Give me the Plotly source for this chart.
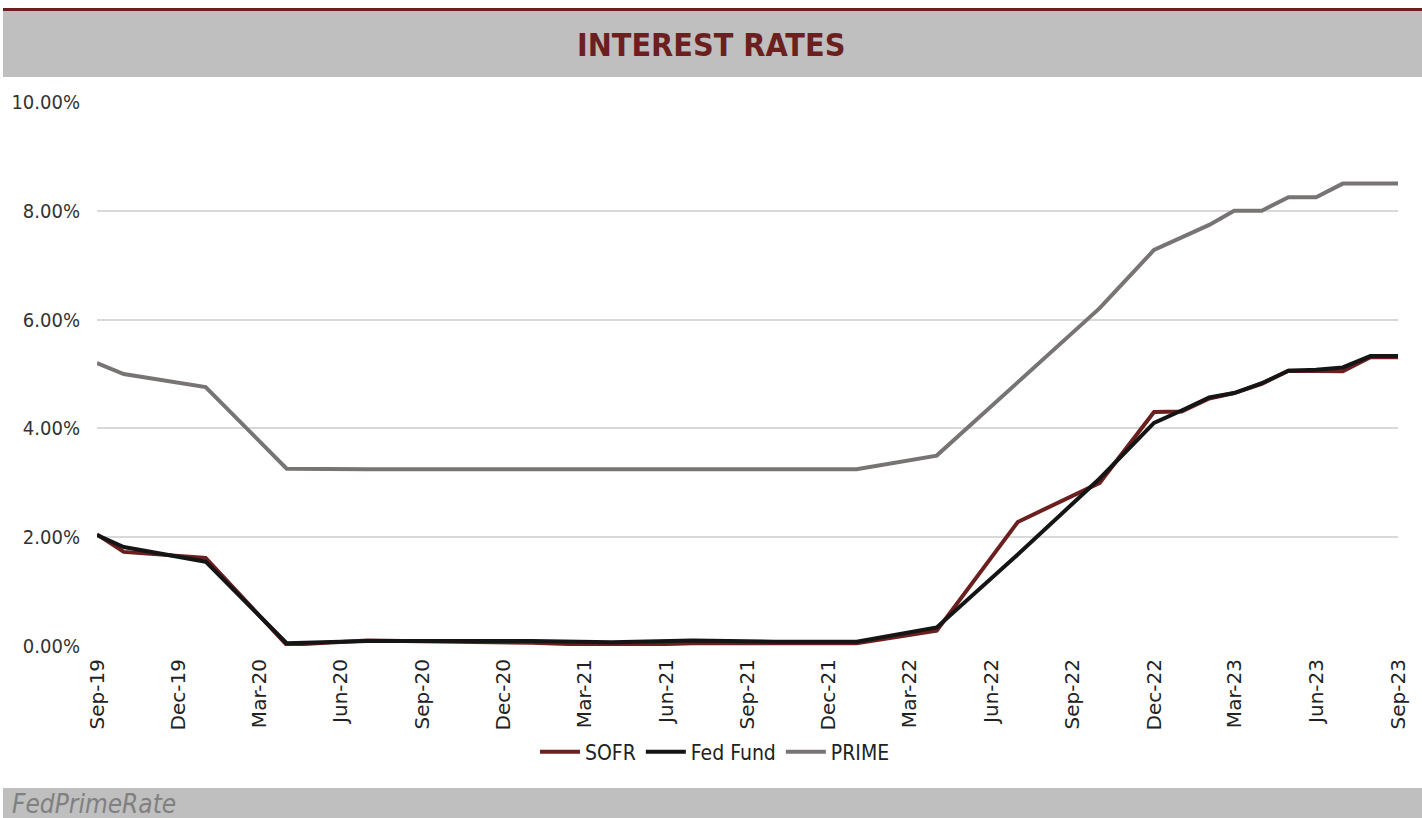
import plotly.graph_objects as go

dates = ["2019-09-01", "2019-10-01", "2020-01-01", "2020-04-01", "2020-07-01", "2020-10-01",
         "2021-01-01", "2021-04-01", "2021-07-01", "2021-10-01", "2022-01-01", "2022-04-01",
         "2022-07-01", "2022-10-01", "2022-12-01", "2023-01-01", "2023-02-01", "2023-03-01",
         "2023-04-01", "2023-05-01", "2023-06-01", "2023-07-01", "2023-08-01", "2023-09-01"]
sofr = [2.05, 1.73, 1.62, 0.02, 0.10, 0.08, 0.06, 0.01, 0.05, 0.05, 0.05, 0.28,
        2.28, 3.00, 4.30, 4.31, 4.55, 4.65, 4.82, 5.06, 5.06, 5.05, 5.31, 5.31]
fedfund = [2.04, 1.82, 1.55, 0.05, 0.09, 0.09, 0.09, 0.07, 0.10, 0.08, 0.08, 0.34,
           1.68, 3.08, 4.10, 4.33, 4.57, 4.65, 4.83, 5.06, 5.08, 5.12, 5.33, 5.33]
prime = [5.20, 5.00, 4.76, 3.26, 3.25, 3.25, 3.25, 3.25, 3.25, 3.25, 3.25, 3.50,
         4.85, 6.21, 7.28, 7.50, 7.74, 8.00, 8.00, 8.25, 8.25, 8.50, 8.50, 8.50]
tick_dates = ["2019-09-01", "2019-12-01", "2020-03-01", "2020-06-01", "2020-09-01", "2020-12-01",
              "2021-03-01", "2021-06-01", "2021-09-01", "2021-12-01", "2022-03-01", "2022-06-01",
              "2022-09-01", "2022-12-01", "2023-03-01", "2023-06-01", "2023-09-01"]
y_ticks = [0, 2, 4, 6, 8, 10]

fig = go.Figure()
fig.add_trace(go.Scatter(x=dates, y=sofr, name="SOFR", mode="lines",
                         line=dict(color="#6B1F1F", width=4)))
fig.add_trace(go.Scatter(x=dates, y=fedfund, name="Fed Fund", mode="lines",
                         line=dict(color="#151515", width=4)))
fig.add_trace(go.Scatter(x=dates, y=prime, name="PRIME", mode="lines",
                         line=dict(color="#787473", width=4)))

L, R, T, B = 97, 1398, 102, 646
W, H = 1422, 818
pw, ph = R - L, B - T

def px(x):
    return (x - L) / pw

def py(y):
    return (B - y) / ph

COND = "Liberation Sans Narrow, DejaVu Sans Condensed, sans-serif"

fig.update_layout(
    width=W, height=H,
    margin=dict(l=L, r=W - R, t=T, b=H - B, autoexpand=False),
    paper_bgcolor="white", plot_bgcolor="white",
    font=dict(family="Lato, DejaVu Sans, sans-serif", color="#404040", size=16),
    xaxis=dict(type="date", range=["2019-09-01", "2023-09-01"],
               tickvals=tick_dates, tickformat="%b-%y", tickangle=-90,
               showgrid=False, zeroline=False, showline=False, ticks="",
               ticklabelstandoff=8,
               tickfont=dict(size=20, color="#222222", family="DejaVu Sans, sans-serif")),
    yaxis=dict(range=[0, 10], tickvals=y_ticks,
               ticktext=[f"{v:.2f}%" for v in y_ticks],
               showgrid=True, gridcolor="#D9D9D9", gridwidth=2, zeroline=False,
               showline=False, ticks="", ticklabelstandoff=16,
               tickfont=dict(size=20, color="#333333", family=COND)),
    legend=dict(orientation="h", x=0.475, y=py(752), xanchor="center", yanchor="middle",
                font=dict(size=21, color="#222222", family=COND),
                itemwidth=40, bgcolor="rgba(0,0,0,0)"),
    shapes=[
        dict(type="rect", xref="paper", yref="paper", x0=px(3), x1=px(1422), y0=py(77), y1=py(11),
             fillcolor="#BFBFBF", line=dict(width=0), layer="below"),
        dict(type="line", xref="paper", yref="paper", x0=px(3), x1=px(1422), y0=py(9.5), y1=py(9.5),
             line=dict(color="#6B1F1F", width=3)),
        dict(type="rect", xref="paper", yref="paper", x0=px(3), x1=px(1422), y0=py(818), y1=py(788),
             fillcolor="#BFBFBF", line=dict(width=0), layer="below"),
    ],
    annotations=[
        dict(text="<b>INTEREST RATES</b>", xref="paper", yref="paper", x=px(711), y=py(45),
             xanchor="center", yanchor="middle", showarrow=False,
             font=dict(size=32, color="#6B1F1F", family=COND)),
        dict(text="<i>FedPrimeRate</i>", xref="paper", yref="paper", x=px(10), y=py(804),
             xanchor="left", yanchor="middle", showarrow=False,
             font=dict(size=26, color="#808080", family=COND)),
    ],
)

fig.write_html("out.html")
